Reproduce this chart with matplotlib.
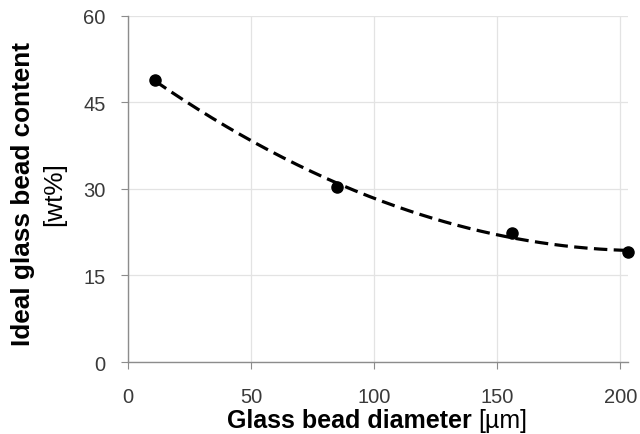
import numpy as np
import matplotlib
matplotlib.use('Agg')
import matplotlib.pyplot as plt

plt.rcParams['font.family'] = ['Liberation Sans', 'DejaVu Sans']

# data
diameter = [11, 85, 156, 203]        # glass bead diameter [um]
content = [48.9, 30.4, 22.3, 19.0]   # ideal glass bead content [wt%]

x_ticks = [0, 50, 100, 150, 200]
y_ticks = [0, 15, 30, 45, 60]

# polynomial trendline (2nd order) through the measured points
coef = np.polyfit(diameter, content, 2)
xs = np.linspace(min(diameter), max(diameter), 200)
ys = np.polyval(coef, xs)

fig = plt.figure(figsize=(6.4, 4.35), dpi=100)
ax = fig.add_axes([0.2, 0.1655, 0.781, 0.7955])

ax.grid(True, color='#e3e3e3', linewidth=0.9)
ax.set_axisbelow(True)
ax.plot(xs, ys, color='black', linestyle='--', linewidth=2.3, dashes=(4.2, 2), clip_on=False)
ax.plot(diameter, content, 'o', color='black', markersize=8, clip_on=False, zorder=3)

ax.set_xlim(0, 203)
ax.set_ylim(0, 60)
ax.set_xticks(x_ticks)
ax.set_yticks(y_ticks)

for s in ['top', 'right']:
    ax.spines[s].set_visible(False)
for s in ['left', 'bottom']:
    ax.spines[s].set_color('#8c8c8c')
    ax.spines[s].set_linewidth(1.0)
ax.tick_params(axis='both', colors='#8c8c8c', labelcolor='#3a3a3a', labelsize=14.5, length=5)
ax.tick_params(axis='x', pad=13)
ax.tick_params(axis='y', pad=11)

# axis titles with mixed weight
fig.text(0.737, 0.016, 'Glass bead diameter', ha='right', va='baseline',
         fontsize=18, fontweight='bold')
fig.text(0.747, 0.016, '[\u00b5m]', ha='left', va='baseline', fontsize=18)
fig.text(0.036, 0.554, 'Ideal glass bead content', rotation=90, ha='center', va='center',
         fontsize=18.8, fontweight='bold')
fig.text(0.085, 0.554, '[wt%]', rotation=90, ha='center', va='center', fontsize=18.8)

fig.savefig('out.png', dpi=100)
